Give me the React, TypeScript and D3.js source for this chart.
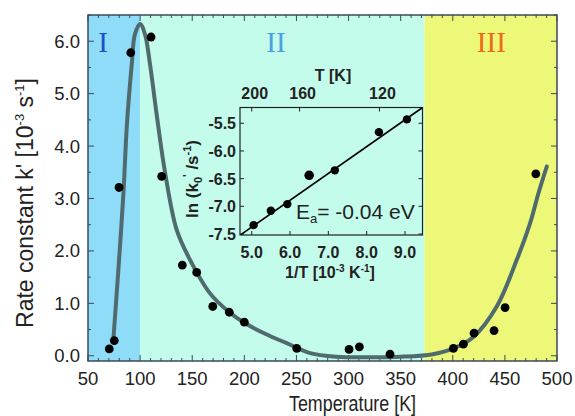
import React from "react";
import * as d3 from "d3";

// ---- data ----
const tempK = [70.4, 75.2, 79.8, 91, 110.5, 120.7, 140.5, 154.3, 169.7, 185.6, 200, 250.3, 300.5, 310.4, 339.8, 400.6, 410.2, 420.4, 439.6, 450.2, 479.7];
const rateK = [0.13, 0.29, 3.21, 5.78, 6.08, 3.42, 1.73, 1.59, 0.94, 0.83, 0.64, 0.14, 0.12, 0.17, 0.03, 0.14, 0.22, 0.43, 0.48, 0.92, 3.47];

const fitT = [74.3, 79, 84, 87.3, 92, 95, 100, 104.7, 109.5, 115.9, 123.9, 135.1, 147.9, 167.1, 185.6, 200, 220, 240.7, 263.1, 288.7, 320, 350, 381, 400.6, 419.8, 442.2, 461.4, 474.2, 482.2, 490.2];
const fitK = [0.3, 1.6, 3.1, 4.4, 5.56, 6.13, 6.33, 6.13, 5.56, 4.6, 3.5, 2.4, 1.83, 1.19, 0.83, 0.63, 0.42, 0.24, 0.05, -0.02, -0.03, -0.02, 0.03, 0.14, 0.36, 0.94, 1.83, 2.53, 3.1, 3.61];

const regionNames = ["I", "II", "III"];
const regionStart = [50, 100, 373];
const regionEnd = [100, 373, 500];
const regionColors = ["#8fdcf8", "#c4fcec", "#eef878"];
const regionTextColors = ["#2050c8", "#4aa0e0", "#f06a18"];
const regionLabelT = [64.4, 230.4, 437];

const xTicks = [50, 100, 150, 200, 250, 300, 350, 400, 450, 500];
const yTicks = [0, 1, 2, 3, 4, 5, 6];

// inset: ln(k0'/s^-1) vs 1/T [1e-3 K^-1]
const invT = [5.05, 5.5, 5.93, 6.5, 7.17, 8.32, 9.05];
const lnK = [-7.34, -7.08, -6.96, -6.44, -6.35, -5.66, -5.43];
const fitInvT = [4.72, 9.45];
const fitLnK = [-7.51, -5.22];
const insetXTicks = [5, 6, 7, 8, 9];
const insetYTicks = [-5.5, -6.0, -6.5, -7.0, -7.5];
const insetTopTicks = [200, 160, 120];

export default function App() {
  const W = 575, H = 416;
  const x = d3.scaleLinear().domain([50, 500]).range([88, 557]);
  const y = d3.scaleLinear().domain([-0.1, 6.5]).range([361, 15]);

  const xi = d3.scaleLinear().domain([4.695, 9.457]).range([240, 422.5]);
  const yi = d3.scaleLinear().domain([-7.518, -5.215]).range([235, 107.5]);

  const line = d3
    .line<number>()
    .x((_, i) => x(fitT[i]))
    .y((_, i) => y(fitK[i]))
    .curve(d3.curveCatmullRom.alpha(0.5));

  const frame = "#3c4a58";
  const font = "Liberation Sans, Arial, sans-serif";

  const minorX = d3.range(50, 501, 10);
  const minorY = d3.range(0, 6.51, 0.5);

  return (
    <svg width={W} height={H} style={{ position: "absolute", left: 0, top: 0, background: "#fff" }} fontFamily={font}>
      {/* regions */}
      {regionNames.map((n, i) => (
        <rect key={n} x={x(regionStart[i])} y={y(6.5)} width={x(regionEnd[i]) - x(regionStart[i])} height={y(-0.1) - y(6.5)} fill={regionColors[i]} />
      ))}
      {regionNames.map((n, i) => (
        <text key={"l" + n} x={x(regionLabelT[i])} y={52} textAnchor="middle" fontFamily="Liberation Serif, Times New Roman, serif" fontSize={29} fill={regionTextColors[i]}>
          {n}
        </text>
      ))}

      {/* ticks main */}
      {minorX.map((t) => {
        const major = t % 50 === 0;
        const L = major ? 6 : 3;
        return (
          <g key={"xt" + t} stroke={frame} strokeWidth={1}>
            <line x1={x(t)} x2={x(t)} y1={y(-0.1)} y2={y(-0.1) - L} />
            <line x1={x(t)} x2={x(t)} y1={y(6.5)} y2={y(6.5) + L} />
          </g>
        );
      })}
      {minorY.map((v) => {
        const major = Math.abs(v - Math.round(v)) < 1e-6;
        const L = major ? 6 : 3;
        return (
          <g key={"yt" + v} stroke={frame} strokeWidth={1}>
            <line x1={x(50)} x2={x(50) + L} y1={y(v)} y2={y(v)} />
            <line x1={x(500)} x2={x(500) - L} y1={y(v)} y2={y(v)} />
          </g>
        );
      })}
      <rect x={x(50)} y={y(6.5)} width={x(500) - x(50)} height={y(-0.1) - y(6.5)} fill="none" stroke={frame} strokeWidth={1.5} />

      {/* tick labels */}
      {xTicks.map((t) => (
        <text key={"xl" + t} x={x(t)} y={385} textAnchor="middle" fontSize={18.5} fill="#222">
          {t}
        </text>
      ))}
      {yTicks.map((v) => (
        <text key={"yl" + v} x={80} y={y(v) + 6.5} textAnchor="end" fontSize={18.5} fill="#222">
          {v.toFixed(1)}
        </text>
      ))}

      {/* axis titles */}
      <text x={289} y={411} fontSize={22} textLength={127} lengthAdjust="spacingAndGlyphs" fill="#222">
        Temperature [K]
      </text>
      <text transform="translate(33,203) rotate(-90)" textAnchor="middle" fontSize={23} fill="#222">
        Rate constant k' [10<tspan dy={-9} fontSize={13}>-3</tspan>
        <tspan dy={9}> s</tspan>
        <tspan dy={-9} fontSize={13}>-1</tspan>
        <tspan dy={9}>]</tspan>
      </text>

      {/* fit curve */}
      <path d={line(fitT) || ""} fill="none" stroke="#4f6b6e" strokeWidth={4} strokeLinecap="round" />

      {/* data points */}
      {tempK.map((t, i) => (
        <circle key={"p" + i} cx={x(t)} cy={y(rateK[i])} r={4.4} fill="#000" />
      ))}

      {/* inset */}
      <g>
        <rect x={xi(4.695)} y={yi(-5.215)} width={xi(9.457) - xi(4.695)} height={yi(-7.518) - yi(-5.215)} fill="none" stroke="#222" strokeWidth={1.2} />
        {insetYTicks.map((v) => (
          <g key={"iy" + v} stroke="#222" strokeWidth={1}>
            <line x1={xi(4.695)} x2={xi(4.695) + 4} y1={yi(v)} y2={yi(v)} />
            <line x1={xi(9.457)} x2={xi(9.457) - 4} y1={yi(v)} y2={yi(v)} />
          </g>
        ))}
        {insetXTicks.map((v) => (
          <line key={"ix" + v} x1={xi(v)} x2={xi(v)} y1={yi(-7.518)} y2={yi(-7.518) - 4} stroke="#222" />
        ))}
        {insetTopTicks.map((T) => (
          <line key={"itt" + T} x1={xi(1000 / T)} x2={xi(1000 / T)} y1={yi(-5.215)} y2={yi(-5.215) + 4} stroke="#222" />
        ))}
        {insetYTicks.map((v) => (
          <text key={"iyl" + v} x={236} y={yi(v) + 6} textAnchor="end" fontSize={16} fontWeight="bold" fill="#222">
            {v.toFixed(1)}
          </text>
        ))}
        {insetXTicks.map((v) => (
          <text key={"ixl" + v} x={xi(v)} y={258} textAnchor="middle" fontSize={16} fontWeight="bold" fill="#222">
            {v.toFixed(1)}
          </text>
        ))}
        {insetTopTicks.map((T) => (
          <text key={"itl" + T} x={xi(1000 / T) + 3} y={99} textAnchor="middle" fontSize={16} fontWeight="bold" fill="#222">
            {T}
          </text>
        ))}
        <text x={333} y={81} textAnchor="middle" fontSize={16} fontWeight="bold" fill="#222">
          T [K]
        </text>
        <text x={330} y={278} textAnchor="middle" fontSize={16} fontWeight="bold" fill="#222">
          1/T [10<tspan dy={-6} fontSize={10}>-3</tspan>
          <tspan dy={6}> K</tspan>
          <tspan dy={-6} fontSize={10}>-1</tspan>
          <tspan dy={6}>]</tspan>
        </text>
        <text transform="translate(198,179) rotate(-90)" textAnchor="middle" fontSize={17} fontWeight="bold" fill="#222">
          ln (k<tspan dy={4} fontSize={11}>0</tspan>
          <tspan dy={-11} fontSize={11}>'</tspan>
          <tspan dy={7}> /s</tspan>
          <tspan dy={-7} fontSize={11}>-1</tspan>
          <tspan dy={7}>)</tspan>
        </text>
        <line x1={xi(fitInvT[0])} y1={yi(fitLnK[0])} x2={xi(fitInvT[1])} y2={yi(fitLnK[1])} stroke="#000" strokeWidth={1.6} />
        {invT.map((v, i) => (
          <circle key={"ip" + i} cx={xi(v)} cy={yi(lnK[i])} r={i === 3 ? 4.8 : 4.2} fill="#000" />
        ))}
        <text x={296} y={219} fontSize={21} fill="#222">
          E<tspan dy={4} fontSize={13}>a</tspan>
          <tspan dy={-4}>= -0.04 eV</tspan>
        </text>
      </g>
    </svg>
  );
}
